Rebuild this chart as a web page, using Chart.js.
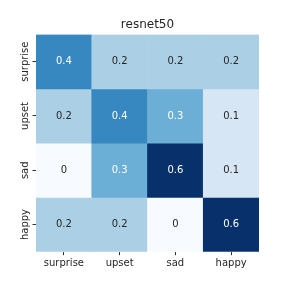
<!DOCTYPE html>
<html>
<head>
<meta charset="utf-8">
<script src="https://cdn.jsdelivr.net/npm/chart.js@4.4.1/dist/chart.umd.min.js"></script>
<style>
  html, body { margin: 0; padding: 0; background: #fff; }
  #wrap { width: 288px; height: 288px; }
</style>
</head>
<body>
<div id="wrap"><canvas id="chart" width="288" height="288"></canvas></div>
<script>
const chartTitle = 'resnet50';
const colLabels = ['surprise', 'upset', 'sad', 'happy'];
const rowLabels = ['surprise', 'upset', 'sad', 'happy'];
const values = [
  [0.4, 0.2, 0.2, 0.2],
  [0.2, 0.4, 0.3, 0.1],
  [0, 0.3, 0.6, 0.1],
  [0.2, 0.2, 0, 0.6]
];
const vmin = 0;
const vmax = 0.6;

// matplotlib Blues
const blues = ['#f7fbff', '#deebf7', '#c6dbef', '#9ecae1', '#6baed6', '#4292c6', '#2171b5', '#08519c', '#08306b'];

function hexRgb(h) {
  return [parseInt(h.slice(1, 3), 16), parseInt(h.slice(3, 5), 16), parseInt(h.slice(5, 7), 16)];
}

function cellRgb(v) {
  let t = (v - vmin) / (vmax - vmin);
  t = Math.max(0, Math.min(1, t));
  const pos = t * (blues.length - 1);
  const i = Math.min(Math.floor(pos), blues.length - 2);
  const f = pos - i;
  const a = hexRgb(blues[i]), b = hexRgb(blues[i + 1]);
  return a.map((c, k) => Math.round(c + (b[k] - c) * f));
}

function cellColor(v) {
  const c = cellRgb(v);
  return `rgb(${c[0]},${c[1]},${c[2]})`;
}

function textColor(v) {
  const lin = cellRgb(v).map(c => {
    c = c / 255;
    return c <= 0.03928 ? c / 12.92 : Math.pow((c + 0.055) / 1.055, 2.4);
  });
  const lum = 0.2126 * lin[0] + 0.7152 * lin[1] + 0.0722 * lin[2];
  return lum > 0.408 ? '#262626' : '#ffffff';
}

const datasets = rowLabels.map((name, r) => ({
  label: name,
  data: values[r].map(() => [r - 0.5, r + 0.5]),
  backgroundColor: values[r].map(cellColor),
  borderWidth: 0,
  barPercentage: 1,
  categoryPercentage: 1,
  grouped: false
}));

const cellText = {
  id: 'cellText',
  afterDatasetsDraw(chart) {
    const ctx = chart.ctx;
    const xs = chart.scales.x, ys = chart.scales.y;
    const area = chart.chartArea;
    ctx.save();
    ctx.textAlign = 'center';
    // title, centred over the plot area
    ctx.font = '12px "DejaVu Sans"';
    ctx.fillStyle = '#262626';
    ctx.textBaseline = 'middle';
    ctx.fillText(chartTitle, (area.left + area.right) / 2, 25);

    ctx.font = '10px "DejaVu Sans"';
    values.forEach((row, r) => {
      row.forEach((v, c) => {
        ctx.fillStyle = textColor(v);
        ctx.fillText(String(v), xs.getPixelForValue(c), ys.getPixelForValue(r));
      });
    });
    // rotated row labels
    ctx.fillStyle = '#262626';
    ctx.textBaseline = 'bottom';
    rowLabels.forEach((name, r) => {
      ctx.save();
      ctx.translate(30, ys.getPixelForValue(r));
      ctx.rotate(-Math.PI / 2);
      ctx.fillText(name, 0, 0);
      ctx.restore();
    });
    ctx.restore();
  }
};

new Chart(document.getElementById('chart').getContext('2d'), {
  type: 'bar',
  data: { labels: colLabels, datasets: datasets },
  options: {
    responsive: false,
    animation: false,
    layout: { padding: { left: 0, right: 29, top: 34.5, bottom: 0 } },
    plugins: {
      legend: { display: false },
      tooltip: { enabled: false },
      title: { display: false }
    },
    scales: {
      x: {
        offset: true,
        grid: { offset: false, drawOnChartArea: false, tickLength: 3.5, color: '#333', tickWidth: 1 },
        border: { display: false },
        ticks: { color: '#262626', padding: 2, font: { family: 'DejaVu Sans', size: 10 }, maxRotation: 0 },
        afterFit(scale) { scale.height = 36.3; }
      },
      y: {
        type: 'linear',
        reverse: true,
        min: -0.5,
        max: 3.5,
        grid: { drawOnChartArea: false, tickLength: 3.5, color: '#333', tickWidth: 1 },
        border: { display: false },
        ticks: { display: false },
        afterBuildTicks(scale) { scale.ticks = [0, 1, 2, 3].map(v => ({ value: v })); },
        afterFit(scale) { scale.width = 36; }
      }
    }
  },
  plugins: [cellText]
});
</script>
</body>
</html>
